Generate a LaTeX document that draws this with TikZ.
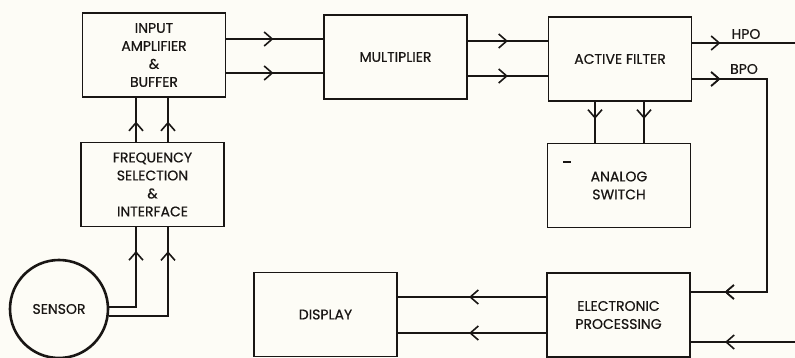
\documentclass[tikz,border=0pt]{standalone}
\usepackage{fontspec}
\setmainfont{Poppins}[FakeBold=0.6]
\usetikzlibrary{arrows.meta,decorations.markings}
\definecolor{paper}{RGB}{253,252,246}
\definecolor{ink}{RGB}{25,22,20}
\tikzset{
  blk/.style={draw=ink,line width=1.8pt,rectangle,minimum width=143pt,minimum height=84pt,inner sep=0pt,align=center,font=\fontsize{14}{18}\selectfont,text=ink},
  wire/.style={draw=ink,line width=1.6pt},
  tipat/.style={postaction={decorate},decoration={markings,mark=at position #1 with {\arrow[ink]{Straight Barb[length=8pt,width=14pt,line width=1.6pt]}}}},
  lbl/.style={font=\fontsize{14}{16}\selectfont,text=ink,inner sep=0pt}
}
\begin{document}
\begin{tikzpicture}[x=1pt,y=-1pt]
\fill[paper] (0,0) rectangle (795,358);
\useasboundingbox (0,0) rectangle (795,358);

\node[blk] (ia) at (154,55) {INPUT\\AMPLIFIER\\\&\\BUFFER};
\node[blk] (fs) at (152.5,184.5) {FREQUENCY\\SELECTION\\\&\\INTERFACE};
\node[blk] (mul) at (395.5,57) {MULTIPLIER};
\node[blk] (af) at (620,59) {ACTIVE FILTER};
\node[blk] (as) at (619,185.5) {ANALOG\\SWITCH};
\node[blk] (ep) at (618.5,315) {ELECTRONIC\\PROCESSING};
\node[blk] (disp) at (325.5,314.5) {DISPLAY};
\node[draw=ink,line width=2.6pt,circle,minimum size=98pt,inner sep=0pt,font=\fontsize{14}{16}\selectfont,text=ink] (sensor) at (59,309) {SENSOR};

\draw[ink,line width=1.4pt] (563,162) -- (571,162);

\coordinate (hpoend) at (795,43);
\coordinate (bpocorner) at (767,79);
\coordinate (epin) at (795,342);

% sensor -> frequency selection
\path[wire,tipat=83pt] (sensor.2) -| ([xshift=-16.5pt]fs.south);
\path[wire,tipat=124pt] (sensor.-8) -| ([xshift=15.5pt]fs.south);
% frequency selection -> input amplifier
\path[wire,tipat=20pt] ([xshift=-16.5pt]fs.north) -- ([xshift=-16.5pt]fs.north |- ia.south);
\path[wire,tipat=20pt] ([xshift=15.5pt]fs.north) -- ([xshift=15.5pt]fs.north |- ia.south);
% input amplifier -> multiplier
\path[wire,tipat=47pt] (ia.east |- 0,39) -- (mul.west |- 0,39);
\path[wire,tipat=47pt] (ia.east |- 0,73) -- (mul.west |- 0,73);
% multiplier -> active filter
\path[wire,tipat=40pt] (mul.east |- 0,41) -- (af.west |- 0,41);
\path[wire,tipat=40pt] (mul.east |- 0,76) -- (af.west |- 0,76);
% active filter -> analog switch
\path[wire,tipat=17pt] (af.south -| 595,0) -- (as.north -| 595,0);
\path[wire,tipat=17pt] (af.south -| 644,0) -- (as.north -| 644,0);
% HPO
\path[wire,tipat=28pt] (af.east |- hpoend) -- (hpoend);
\node[lbl] (hpo) at (746,34) {HPO};
% BPO
\path[wire,tipat=28pt,tipat=330pt] (af.east |- bpocorner) -- (bpocorner) |- (ep.east |- 0,292);
\node[lbl] (bpo) at (744,69) {BPO};
% second input to electronic processing
\path[wire,tipat=70pt] (epin) -- (ep.east |- epin);
% electronic processing -> display
\path[wire,tipat=77pt] (ep.west |- 0,297) -- (disp.east |- 0,297);
\path[wire,tipat=77pt] (ep.west |- 0,333) -- (disp.east |- 0,333);
\end{tikzpicture}
\end{document}
